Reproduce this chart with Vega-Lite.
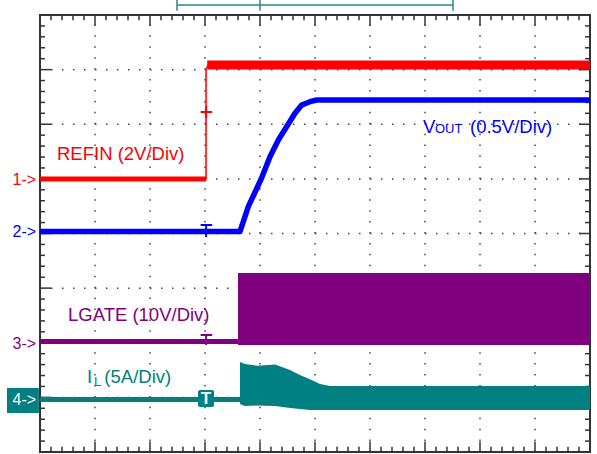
{
  "$schema": "https://vega.github.io/schema/vega-lite/v6.json",
  "width": 550,
  "height": 437,
  "autosize": {"type": "none"},
  "padding": {"left": 40, "top": 15, "right": 7, "bottom": 2},
  "background": "white",
  "config": {"view": {"stroke": "#333333", "strokeWidth": 2}, "text": {"font": "Liberation Sans"}},
  "datasets": {
    "gx": [{"v":1},{"v":2},{"v":3},{"v":4},{"v":5},{"v":6},{"v":7},{"v":8},{"v":9}],
    "gy": [{"v":1},{"v":2},{"v":3},{"v":4},{"v":5},{"v":6},{"v":7}],
    "xMinor": [{"v":0.2},{"v":0.4},{"v":0.6},{"v":0.8},{"v":1.2},{"v":1.4},{"v":1.6},{"v":1.8},{"v":2.2},{"v":2.4},{"v":2.6},{"v":2.8},{"v":3.2},{"v":3.4},{"v":3.6},{"v":3.8},{"v":4.2},{"v":4.4},{"v":4.6},{"v":4.8},{"v":5.2},{"v":5.4},{"v":5.6},{"v":5.8},{"v":6.2},{"v":6.4},{"v":6.6},{"v":6.8},{"v":7.2},{"v":7.4},{"v":7.6},{"v":7.8},{"v":8.2},{"v":8.4},{"v":8.6},{"v":8.8},{"v":9.2},{"v":9.4},{"v":9.6},{"v":9.8}],
    "yMinor": [{"v":0.2},{"v":0.4},{"v":0.6},{"v":0.8},{"v":1.2},{"v":1.4},{"v":1.6},{"v":1.8},{"v":2.2},{"v":2.4},{"v":2.6},{"v":2.8},{"v":3.2},{"v":3.4},{"v":3.6},{"v":3.8},{"v":4.2},{"v":4.4},{"v":4.6},{"v":4.8},{"v":5.2},{"v":5.4},{"v":5.6},{"v":5.8},{"v":6.2},{"v":6.4},{"v":6.6},{"v":6.8},{"v":7.2},{"v":7.4},{"v":7.6},{"v":7.8}],
    "traces": [
      {"s":"ref_lo","ch":"1","x":0,"y":5.0},
      {"s":"ref_lo","ch":"1","x":3.02,"y":5.0},
      {"s":"ref_step","ch":"1","x":3.02,"y":5.0},
      {"s":"ref_step","ch":"1","x":3.02,"y":7.0},
      {"s":"ref_step","ch":"1","x":3.06,"y":7.085},
      {"s":"ref_hi","ch":"1","x":3.04,"y":7.085},
      {"s":"ref_hi","ch":"1","x":10,"y":7.085},
      {"s":"vout","ch":"2","x":0,"y":4.035},
      {"s":"vout","ch":"2","x":3.636,"y":4.035},
      {"s":"vout","ch":"2","x":3.787,"y":4.491},
      {"s":"vout","ch":"2","x":4.027,"y":5.011},
      {"s":"vout","ch":"2","x":4.182,"y":5.406},
      {"s":"vout","ch":"2","x":4.333,"y":5.712},
      {"s":"vout","ch":"2","x":4.515,"y":6.005},
      {"s":"vout","ch":"2","x":4.636,"y":6.2},
      {"s":"vout","ch":"2","x":4.758,"y":6.352},
      {"s":"vout","ch":"2","x":4.909,"y":6.413},
      {"s":"vout","ch":"2","x":5.031,"y":6.444},
      {"s":"vout","ch":"2","x":10,"y":6.444},
      {"s":"lg_lo","ch":"3","x":0,"y":2.023},
      {"s":"lg_lo","ch":"3","x":3.62,"y":2.023},
      {"s":"il_lo","ch":"4","x":0,"y":0.961},
      {"s":"il_lo","ch":"4","x":3.65,"y":0.961}
    ],
    "bands": [
      {"ch":"3","x":3.6,"top":3.277,"bot":1.959},
      {"ch":"3","x":10,"top":3.277,"bot":1.959},
      {"ch":"4","x":3.636,"top":1.648,"bot":0.879},
      {"ch":"4","x":3.727,"top":1.61,"bot":0.842},
      {"ch":"4","x":3.95,"top":1.58,"bot":0.85},
      {"ch":"4","x":4.273,"top":1.6,"bot":0.842},
      {"ch":"4","x":4.545,"top":1.5,"bot":0.805},
      {"ch":"4","x":4.727,"top":1.41,"bot":0.787},
      {"ch":"4","x":4.909,"top":1.33,"bot":0.769},
      {"ch":"4","x":5.091,"top":1.245,"bot":0.769},
      {"ch":"4","x":5.273,"top":1.208,"bot":0.769},
      {"ch":"4","x":10,"top":1.208,"bot":0.769}
    ],
    "tmarks": [
      {"ch":"1","bar":6.224,"top":6.334,"bot":6.114},
      {"ch":"2","bar":4.156,"top":4.156,"bot":3.936},
      {"ch":"3","bar":2.142,"top":2.142,"bot":1.959}
    ],
    "bigText": [
      {"t":"REFIN (2V/Div)","ch":"1","x":0.309,"y":5.345},
      {"t":"V","ch":"2","x":6.964,"y":5.84},
      {"t":"(0.5V/Div)","ch":"2","x":7.818,"y":5.84},
      {"t":"LGATE (10V/Div)","ch":"3","x":0.509,"y":2.398},
      {"t":"I","ch":"4","x":0.855,"y":1.263},
      {"t":"(5A/Div)","ch":"4","x":1.17,"y":1.263}
    ],
    "subText": [
      {"t":"OUT","ch":"2","x":7.182,"y":5.84},
      {"t":"L","ch":"4","x":0.98,"y":1.208}
    ],
    "markers": [
      {"t":"1->","ch":"1","y":4.888},
      {"t":"2->","ch":"2","y":3.936},
      {"t":"3->","ch":"3","y":1.886}
    ]
  },
  "encoding": {},
  "layer": [
    {
      "data": {"name": "gx"},
      "mark": {"type": "rule", "color": "#444444", "strokeWidth": 1.5, "strokeDash": [1.5, 9.425]},
      "encoding": {
        "x": {"field": "v", "type": "quantitative", "scale": {"domain": [0, 10], "nice": false, "zero": false}, "axis": null},
        "y": {"datum": 0, "type": "quantitative", "scale": {"domain": [0, 8], "nice": false, "zero": false}, "axis": null},
        "y2": {"datum": 8}
      }
    },
    {
      "data": {"name": "gy"},
      "mark": {"type": "rule", "color": "#444444", "strokeWidth": 1.5, "strokeDash": [1.5, 9.5]},
      "encoding": {
        "y": {"field": "v", "type": "quantitative"},
        "x": {"datum": 0, "type": "quantitative"},
        "x2": {"datum": 10}
      }
    },
    {
      "data": {"name": "xMinor"},
      "mark": {"type": "rule", "color": "#333333", "strokeWidth": 1.5},
      "encoding": {"x": {"field": "v", "type": "quantitative"}, "y": {"datum": 8, "type": "quantitative"}, "y2": {"datum": 7.905}}
    },
    {
      "data": {"name": "xMinor"},
      "mark": {"type": "rule", "color": "#333333", "strokeWidth": 1.5},
      "encoding": {"x": {"field": "v", "type": "quantitative"}, "y": {"datum": 0, "type": "quantitative"}, "y2": {"datum": 0.095}}
    },
    {
      "data": {"name": "gx"},
      "mark": {"type": "rule", "color": "#333333", "strokeWidth": 1.5},
      "encoding": {"x": {"field": "v", "type": "quantitative"}, "y": {"datum": 8, "type": "quantitative"}, "y2": {"datum": 7.81}}
    },
    {
      "data": {"name": "gx"},
      "mark": {"type": "rule", "color": "#333333", "strokeWidth": 1.5},
      "encoding": {"x": {"field": "v", "type": "quantitative"}, "y": {"datum": 0, "type": "quantitative"}, "y2": {"datum": 0.19}}
    },
    {
      "data": {"name": "yMinor"},
      "mark": {"type": "rule", "color": "#333333", "strokeWidth": 1.5},
      "encoding": {"y": {"field": "v", "type": "quantitative"}, "x": {"datum": 0, "type": "quantitative"}, "x2": {"datum": 0.09}}
    },
    {
      "data": {"name": "yMinor"},
      "mark": {"type": "rule", "color": "#333333", "strokeWidth": 1.5},
      "encoding": {"y": {"field": "v", "type": "quantitative"}, "x": {"datum": 10, "type": "quantitative"}, "x2": {"datum": 9.91}}
    },
    {
      "data": {"name": "gy"},
      "mark": {"type": "rule", "color": "#333333", "strokeWidth": 1.5},
      "encoding": {"y": {"field": "v", "type": "quantitative"}, "x": {"datum": 0, "type": "quantitative"}, "x2": {"datum": 0.2}}
    },
    {
      "data": {"name": "gy"},
      "mark": {"type": "rule", "color": "#333333", "strokeWidth": 1.5},
      "encoding": {"y": {"field": "v", "type": "quantitative"}, "x": {"datum": 10, "type": "quantitative"}, "x2": {"datum": 9.8}}
    },
    {
      "data": {"name": "bands"},
      "mark": {"type": "area", "interpolate": "linear"},
      "encoding": {
        "x": {"field": "x", "type": "quantitative"},
        "y": {"field": "top", "type": "quantitative"},
        "y2": {"field": "bot"},
        "detail": {"field": "ch"},
        "color": {"field": "ch", "type": "nominal", "scale": {"domain": ["1", "2", "3", "4"], "range": ["#ff0000", "#0000ff", "#800080", "#008080"]}, "legend": null}
      }
    },
    {
      "data": {"name": "traces"},
      "transform": [{"filter": "datum.s === 'ref_lo' || datum.s === 'lg_lo' || datum.s === 'il_lo'"}],
      "mark": {"type": "line", "strokeWidth": 5},
      "encoding": {
        "x": {"field": "x", "type": "quantitative"},
        "y": {"field": "y", "type": "quantitative"},
        "detail": {"field": "s"},
        "color": {"field": "ch", "type": "nominal", "legend": null}
      }
    },
    {
      "data": {"name": "traces"},
      "transform": [{"filter": "datum.s === 'ref_step'"}],
      "mark": {"type": "line", "strokeWidth": 2, "opacity": 0.8},
      "encoding": {
        "x": {"field": "x", "type": "quantitative"},
        "y": {"field": "y", "type": "quantitative"},
        "color": {"field": "ch", "type": "nominal", "legend": null}
      }
    },
    {
      "data": {"name": "traces"},
      "transform": [{"filter": "datum.s === 'ref_hi'"}],
      "mark": {"type": "line", "strokeWidth": 9},
      "encoding": {
        "x": {"field": "x", "type": "quantitative"},
        "y": {"field": "y", "type": "quantitative"},
        "color": {"field": "ch", "type": "nominal", "legend": null}
      }
    },
    {
      "data": {"name": "traces"},
      "transform": [{"filter": "datum.s === 'vout'"}],
      "mark": {"type": "line", "strokeWidth": 5.5, "strokeJoin": "round"},
      "encoding": {
        "x": {"field": "x", "type": "quantitative"},
        "y": {"field": "y", "type": "quantitative"},
        "color": {"field": "ch", "type": "nominal", "legend": null}
      }
    },
    {
      "data": {"name": "tmarks"},
      "mark": {"type": "rule", "strokeWidth": 2},
      "encoding": {
        "x": {"datum": 2.92, "type": "quantitative"},
        "x2": {"datum": 3.13},
        "y": {"field": "bar", "type": "quantitative"},
        "color": {"field": "ch", "type": "nominal", "legend": null}
      }
    },
    {
      "data": {"name": "tmarks"},
      "mark": {"type": "rule", "strokeWidth": 2},
      "encoding": {
        "x": {"datum": 3.02, "type": "quantitative"},
        "y": {"field": "top", "type": "quantitative"},
        "y2": {"field": "bot"},
        "color": {"field": "ch", "type": "nominal", "legend": null}
      }
    },
    {
      "data": {"values": [{"ch": "4"}]},
      "mark": {"type": "rect", "color": "#008080", "cornerRadius": 2},
      "encoding": {
        "x": {"datum": 2.873, "type": "quantitative"},
        "x2": {"datum": 3.164},
        "y": {"datum": 1.135, "type": "quantitative"},
        "y2": {"datum": 0.824}
      }
    },
    {
      "data": {"values": [{"t": "T"}]},
      "mark": {"type": "text", "color": "white", "fontSize": 17, "fontWeight": "bold", "align": "center", "baseline": "alphabetic"},
      "encoding": {
        "x": {"datum": 3.018, "type": "quantitative"},
        "y": {"datum": 0.87, "type": "quantitative"},
        "text": {"field": "t"}
      }
    },
    {
      "data": {"values": [{"ch": "4"}]},
      "mark": {"type": "rect", "color": "#008080"},
      "encoding": {
        "x": {"datum": -0.6, "type": "quantitative"},
        "x2": {"datum": -0.02},
        "y": {"datum": 1.172, "type": "quantitative"},
        "y2": {"datum": 0.714}
      }
    },
    {
      "data": {"values": [{"t": "4->"}]},
      "mark": {"type": "text", "color": "white", "fontSize": 16, "align": "right", "baseline": "alphabetic"},
      "encoding": {
        "x": {"datum": -0.07, "type": "quantitative"},
        "y": {"datum": 0.86, "type": "quantitative"},
        "text": {"field": "t"}
      }
    },
    {
      "data": {"name": "markers"},
      "mark": {"type": "text", "fontSize": 16, "align": "right", "baseline": "alphabetic"},
      "encoding": {
        "x": {"datum": -0.07, "type": "quantitative"},
        "y": {"field": "y", "type": "quantitative"},
        "text": {"field": "t"},
        "color": {"field": "ch", "type": "nominal", "legend": null}
      }
    },
    {
      "data": {"name": "bigText"},
      "mark": {"type": "text", "fontSize": 18.5, "align": "left", "baseline": "alphabetic"},
      "encoding": {
        "x": {"field": "x", "type": "quantitative"},
        "y": {"field": "y", "type": "quantitative"},
        "text": {"field": "t"},
        "color": {"field": "ch", "type": "nominal", "legend": null}
      }
    },
    {
      "data": {"name": "subText"},
      "mark": {"type": "text", "fontSize": 13, "align": "left", "baseline": "alphabetic"},
      "encoding": {
        "x": {"field": "x", "type": "quantitative"},
        "y": {"field": "y", "type": "quantitative"},
        "text": {"field": "t"},
        "color": {"field": "ch", "type": "nominal", "legend": null}
      }
    },
    {
      "data": {"values": [{"a": 2.491, "b": 7.509}]},
      "mark": {"type": "rule", "color": "#2a8a8a", "strokeWidth": 1.5},
      "encoding": {
        "x": {"field": "a", "type": "quantitative"},
        "x2": {"field": "b"},
        "y": {"datum": 8.183, "type": "quantitative"}
      }
    },
    {
      "data": {"values": [{"v": 2.491}, {"v": 4.0}, {"v": 7.509}]},
      "mark": {"type": "rule", "color": "#2a8a8a", "strokeWidth": 1.5},
      "encoding": {
        "x": {"field": "v", "type": "quantitative"},
        "y": {"datum": 8.28, "type": "quantitative"},
        "y2": {"datum": 8.08}
      }
    }
  ]
}
